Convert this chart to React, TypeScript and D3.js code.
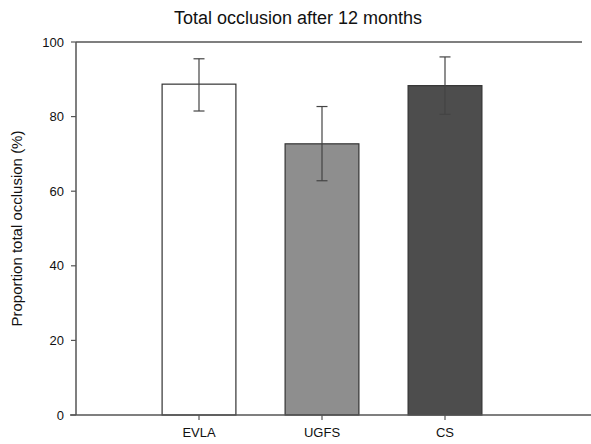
import * as d3 from 'd3';

const categories = ['EVLA', 'UGFS', 'CS'];
const values = [88.7, 72.7, 88.3];
const errLow = [81.5, 62.8, 80.6];
const errHigh = [95.5, 82.7, 96.0];
const fills = ['#ffffff', '#8e8e8e', '#4d4d4d'];
const yTicks = [0, 20, 40, 60, 80, 100];

const W = 591;
const H = 444;
const left = 76;
const top = 42;
const bottom = 415;

export default function App() {
  const x = d3.scalePoint<string>().domain(categories).range([left, 568]).padding(1);
  const y = d3.scaleLinear().domain([0, 100]).range([bottom, top]);
  const bw = x.step() * 0.6;
  const font = 'Liberation Sans, Arial, sans-serif';

  return (
    <svg width={W} height={H} style={{ position: 'absolute', left: 0, top: 0 }} fontFamily={font}>
      <rect width={W} height={H} fill="#fff" />
      <text x={298} y={24} textAnchor="middle" fontSize={18} fill="#111">
        Total occlusion after 12 months
      </text>

      {categories.map((c, i) => {
        const cx = x(c)!;
        return (
          <g key={c}>
            <rect
              x={cx - bw / 2}
              y={y(values[i])}
              width={bw}
              height={y(0) - y(values[i])}
              fill={fills[i]}
              stroke="#333"
              strokeWidth={1.2}
            />
            <line x1={cx} x2={cx} y1={y(errLow[i])} y2={y(errHigh[i])} stroke="#444" strokeWidth={1.2} />
            <line x1={cx - 5.5} x2={cx + 5.5} y1={y(errLow[i])} y2={y(errLow[i])} stroke="#444" strokeWidth={1.2} />
            <line x1={cx - 5.5} x2={cx + 5.5} y1={y(errHigh[i])} y2={y(errHigh[i])} stroke="#444" strokeWidth={1.2} />
            <line x1={cx} x2={cx} y1={bottom} y2={bottom + 5} stroke="#555" strokeWidth={1.2} />
            <text x={cx} y={bottom + 22} textAnchor="middle" fontSize={13} fill="#111">
              {c}
            </text>
          </g>
        );
      })}

      {/* axes */}
      <line x1={left} x2={left} y1={top} y2={bottom} stroke="#555" strokeWidth={1.5} />
      <line x1={left} x2={582} y1={top} y2={top} stroke="#555" strokeWidth={1.5} />
      <line x1={70} x2={591} y1={bottom} y2={bottom} stroke="#555" strokeWidth={1.5} />
      {yTicks.map((t) => (
        <g key={t}>
          <line x1={left - 5} x2={left} y1={y(t)} y2={y(t)} stroke="#555" strokeWidth={1.2} />
          <text x={64} y={y(t) + 4.5} textAnchor="end" fontSize={13} fill="#111">
            {t}
          </text>
        </g>
      ))}
      <text
        transform={`translate(22,${(top + bottom) / 2}) rotate(-90)`}
        textAnchor="middle"
        fontSize={15}
        fill="#111"
      >
        Proportion total occlusion (%)
      </text>
    </svg>
  );
}
